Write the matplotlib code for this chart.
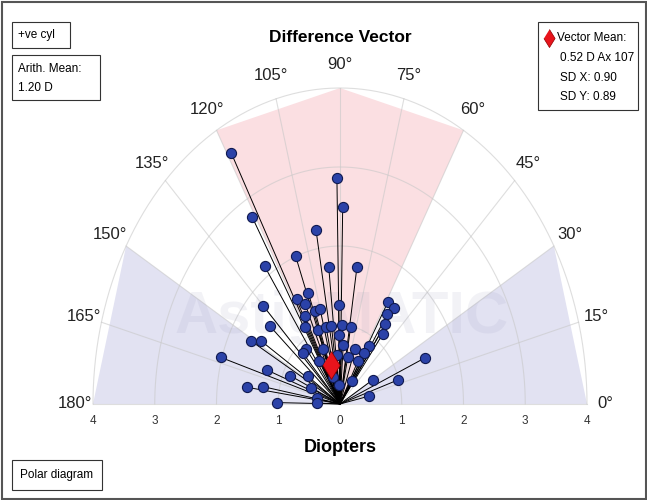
import numpy as np
import matplotlib.pyplot as plt
from matplotlib.patches import Polygon, Rectangle

plt.rcParams['font.family'] = ['Liberation Sans Narrow', 'Liberation Sans', 'DejaVu Sans']

# difference vectors: magnitude (D) and axis (deg)
mag = [3.63, 2.76, 2.86, 2.49, 2.24, 2.00, 2.13, 1.75, 1.76, 1.50,
       1.50, 1.38, 1.76, 1.25, 1.25, 1.25, 1.25, 1.51, 1.13, 1.00,
       1.00, 1.00, 1.00, 0.99, 0.87, 1.65, 1.51, 0.75, 0.89, 0.88,
       0.75, 0.74, 0.87, 0.75, 0.62, 0.61, 0.62, 0.64, 2.02, 0.36,
       1.26, 0.88, 0.63, 0.35, 0.62, 0.24, 1.52, 1.27, 0.51, 0.38,
       1.02, 0.37, 0.48, 1.50, 1.50, 1.37, 1.25, 1.13, 1.50, 0.99]
axis = [119, 121, 91, 89, 100, 111, 125, 96, 81, 110,
        118, 114, 135, 91, 109, 105, 117, 139, 120, 111,
        103, 98, 88, 80, 91, 151, 148, 86, 128, 133,
        112, 71, 57, 59, 95, 78, 62, 122, 163, 108,
        160, 156, 146, 56, 30, 94, 172, 170, 157, 169,
        179, 178, 12, 59, 54, 56, 54, 52, 23, 18]
mean_mag = 0.52
mean_axis = 107

angle_ticks = [0, 15, 30, 45, 60, 75, 90, 105, 120, 135, 150, 165, 180]
rings = [1, 2, 3, 4]

fig = plt.figure(figsize=(6.47, 5.0), dpi=100)
ax = fig.add_axes([0, 0, 1, 1])
ax.set_xlim(-340 / 61.75, 307 / 61.75)
ax.set_ylim(-96 / 79, 404 / 79)
ax.axis('off')

def pol(r, deg):
    t = np.radians(deg)
    return r * np.cos(t), r * np.sin(t)

# shaded sectors
pts = [pol(0, 0), pol(4, 60), pol(4, 90), pol(4, 120)]
ax.add_patch(Polygon(pts, closed=True, facecolor='#fbdfe2', edgecolor='none', zorder=1))
for a, b in [(0, 30), (150, 180)]:
    pts = [pol(0, 0), pol(4, a), pol(4, b)]
    ax.add_patch(Polygon(pts, closed=True, facecolor='#e2e2f2', edgecolor='none', zorder=1))

# grid
th = np.linspace(0, 180, 300)
for r in rings:
    x, y = pol(r, th)
    ax.plot(x, y, color='#c8c8c8', lw=0.8, alpha=0.6, zorder=2)
for a in angle_ticks:
    x, y = pol(np.array([0, 4]), a)
    ax.plot(x, y, color='#c8c8c8', lw=0.8, alpha=0.6, zorder=2)

# watermark
ax.text(0.03, 1.1, 'AstigMATIC', fontsize=43, fontweight='bold', color='#8888b0',
        alpha=0.1, ha='center', va='center', zorder=2)

# angle labels
for a in angle_ticks:
    x, y = pol(4.3, a)
    ax.text(x, y, f'{a}°', fontsize=12, color='#222222', ha='center', va='center')

# diopter ticks
for v in range(-4, 5):
    ax.text(v, -0.22, str(abs(v)), fontsize=8.5, color='#333333', ha='center', va='center')

# vectors
for r, a in zip(mag, axis):
    x, y = pol(r, a)
    ax.plot([0, x], [0, y], color='black', lw=0.7, zorder=3)
for r, a in zip(mag, axis):
    x, y = pol(r, a)
    ax.plot(x, y, 'o', ms=7.3, mfc='#2b42a8', mec='#101a50', mew=0.8, zorder=4)

diamond = [(0, 1), (0.62, 0), (0, -1), (-0.62, 0)]
mx, my = pol(mean_mag, mean_axis)
ax.plot(mx, my, marker=diamond, ms=20, mfc='#e8141c', mec='#900000', mew=0.6, zorder=5)

# overlay in pixel coordinates for titles and boxes
ov = fig.add_axes([0, 0, 1, 1])
ov.set_xlim(0, 647)
ov.set_ylim(500, 0)
ov.axis('off')
ov.patch.set_alpha(0)

ov.text(340, 37, 'Difference Vector', fontsize=12.5, fontweight='bold', ha='center', va='center')
ov.text(340, 448, 'Diopters', fontsize=13, fontweight='bold', ha='center', va='center')

def box(x0, y0, x1, y1):
    ov.add_patch(Rectangle((x0, y0), x1 - x0, y1 - y0, facecolor='white',
                           edgecolor='#333333', lw=0.8))

box(12, 22, 70, 48)
ov.text(18, 35, '+ve cyl', fontsize=8.5, va='center')
box(12, 55, 100, 100)
ov.text(18, 69, 'Arith. Mean:', fontsize=8.5, va='center')
ov.text(18, 88, '1.20 D', fontsize=8.5, va='center')
box(538, 22, 638, 110)
ov.plot(549, 38, marker=diamond, ms=13, mfc='#e8141c', mec='#900000', mew=0.5)
ov.text(557, 38, 'Vector Mean:', fontsize=8.5, va='center')
ov.text(560, 58, '0.52 D Ax 107', fontsize=8.5, va='center')
ov.text(560, 78, 'SD X: 0.90', fontsize=8.5, va='center')
ov.text(560, 97, 'SD Y: 0.89', fontsize=8.5, va='center')
box(12, 460, 102, 490)
ov.text(20, 475, 'Polar diagram', fontsize=8.5, va='center')

# outer frame
ov.add_patch(Rectangle((1.5, 1.5), 644, 497, facecolor='none', edgecolor='#555555', lw=1.5))

fig.savefig('out.png', dpi=100)
